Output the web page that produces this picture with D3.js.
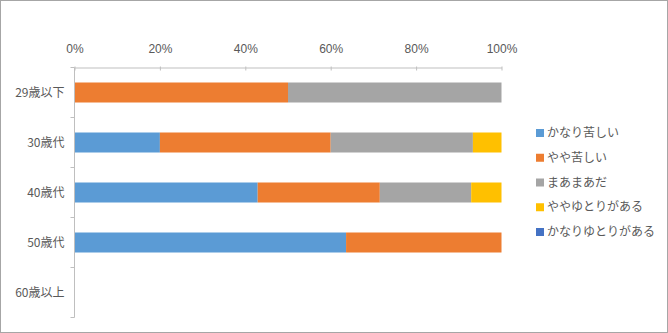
<!DOCTYPE html>
<html><head><meta charset="utf-8">
<script src="https://cdn.jsdelivr.net/npm/d3@7"></script>
<style>body{margin:0;background:#fff}svg{display:block;font-family:"Noto Sans CJK JP","Noto Sans",sans-serif}</style>
</head><body><svg id="c" width="668" height="333"></svg>
<script>
const categories = ["29歳以下","30歳代","40歳代","50歳代","60歳以上"];
const seriesNames = ["かなり苦しい","やや苦しい","まあまあだ","ややゆとりがある","かなりゆとりがある"];
const seriesColors = ["#5B9BD5","#ED7D31","#A5A5A5","#FFC000","#4472C4"];
const s1 = [0, 20.0, 42.9, 63.6, 0];
const s2 = [50, 40.0, 28.6, 36.4, 0];
const s3 = [50, 33.3, 21.4, 0, 0];
const s4 = [0, 6.7, 7.1, 0, 0];
const s5 = [0, 0, 0, 0, 0];
const xTicks = [0,20,40,60,80,100];

const series = [s1,s2,s3,s4,s5];
const rows = categories.map((c,i)=>{const o={cat:c}; seriesNames.forEach((n,j)=>o[n]=series[j][i]); return o;});
const stack = d3.stack().keys(seriesNames)(rows);

const svg = d3.select("#c");
svg.append("rect").attr("x",0.5).attr("y",0.5).attr("width",667).attr("height",332).attr("fill","#fff").attr("stroke","#a6a6a6");

const x = d3.scaleLinear().domain([0,100]).range([74.5,501.5]);
const y = d3.scaleBand().domain(categories).range([67.5,317.5]).paddingInner(0.6).paddingOuter(0.3);

// bars
svg.append("g").selectAll("g").data(stack).join("g").attr("fill",(d,i)=>seriesColors[i])
  .selectAll("rect").data(d=>d).join("rect")
  .attr("x",d=>x(d[0])).attr("width",d=>x(d[1])-x(d[0]))
  .attr("y",d=>y(d.data.cat)).attr("height",y.bandwidth());

// top axis
const xa = svg.append("g").attr("transform","translate(0,67.5)")
  .call(d3.axisTop(x).tickValues(xTicks).tickFormat(d=>d+"%").tickSize(4).tickSizeOuter(0));
xa.select(".domain").attr("stroke","#bfbfbf");
xa.selectAll(".tick line").attr("stroke","#bfbfbf").attr("y2",3).attr("y1",-1);
xa.selectAll("text").attr("fill","#595959").attr("font-size","12px").attr("y",-15);

// left axis
const step = 50;
const ya = svg.append("g").attr("transform","translate(74.5,0)");
ya.append("line").attr("y1",67.5).attr("y2",317.5).attr("stroke","#bfbfbf");
ya.selectAll("line.t").data(d3.range(categories.length+1)).join("line").attr("class","t")
  .attr("x1",-4).attr("x2",0).attr("y1",i=>67.5+i*step).attr("y2",i=>67.5+i*step).attr("stroke","#bfbfbf");
ya.selectAll("text").data(categories).join("text")
  .attr("x",-10).attr("y",d=>y(d)+y.bandwidth()/2).attr("dy","0.35em")
  .attr("text-anchor","end").attr("fill","#595959").attr("font-size","12px").text(d=>d);

// legend
const lg = svg.append("g");
const ly = d3.scalePoint().domain(seriesNames).range([133,232]);
lg.selectAll("rect").data(seriesNames).join("rect")
  .attr("x",536).attr("y",d=>ly(d)-4).attr("width",8).attr("height",8).attr("fill",(d,i)=>seriesColors[i]);
lg.selectAll("text").data(seriesNames).join("text")
  .attr("x",547).attr("y",d=>ly(d)).attr("dy","0.35em").attr("fill","#595959").attr("font-size","12px").text(d=>d);
</script></body></html>
